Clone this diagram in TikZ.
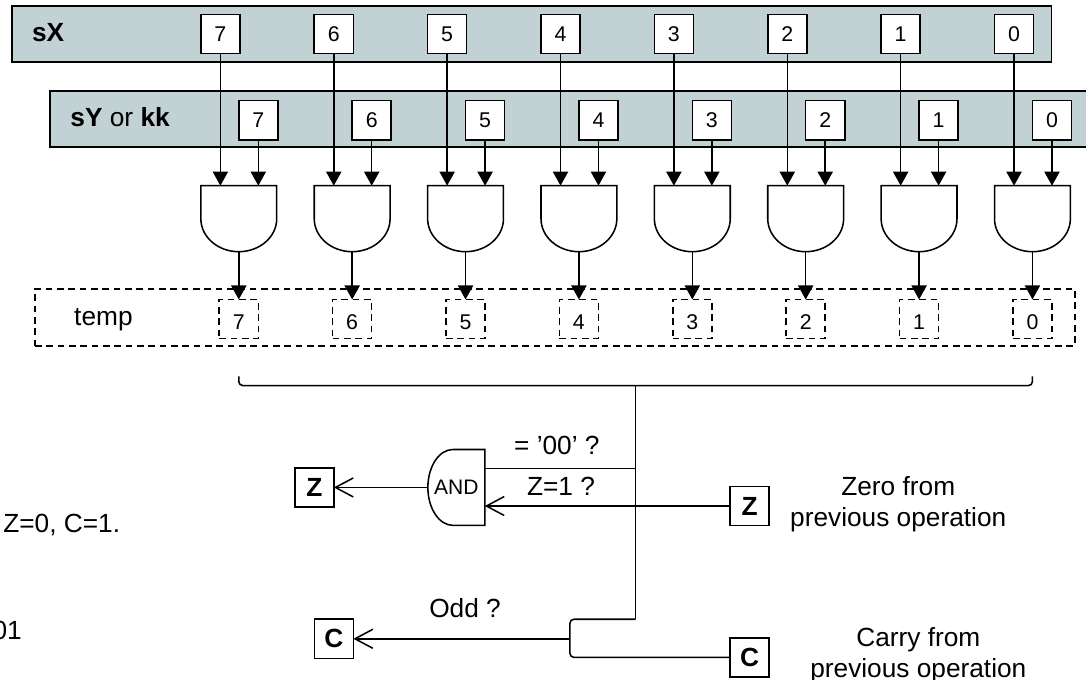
\documentclass[tikz,border=0pt]{standalone}
\usepackage{fontspec}
\setmainfont{Liberation Sans}
\usetikzlibrary{positioning, arrows.meta, calc}
\definecolor{regfill}{RGB}{193,209,212}
\tikzset{
  wire/.style={line width=1.15pt},
  arrow/.style={wire, -{Triangle[length=0.37cm, width=0.4cm]}},
  openarrow/.style={wire, -{Straight Barb[length=0.47cm, width=0.5cm]}}}

\begin{document}
\begin{tikzpicture}[
		node distance=1.959cm,
		font=\fontsize{19.7}{23}\selectfont,
		regbar/.style={
			draw,
			fill=regfill,
			line width=1.2pt,
			minimum width=27.41cm,
			minimum height=1.48cm
		},
		bitbox/.style={
			draw,
			fill=white,
			line width=1.15pt,
			outer sep=0pt,
			inner sep=0pt,
			minimum size=1.03cm,
			font=\fontsize{16}{18}\selectfont
		},
		tempbar/.style={
			draw,
			line width=1.1pt,
			dash pattern=on 5pt off 3.5pt,
			minimum width=27.41cm,
			minimum height=1.5cm
		},
		tempbit/.style={
			bitbox,
			fill=none,
			text height=16pt,
			text depth=0pt,
			dash pattern=on 5pt off 3.5pt
		},
		flagbox/.style={
			bitbox,
			font=\fontsize{19.7}{23}\selectfont\bfseries
		},
		label/.style={
			inner sep=0pt,
			anchor=base
		},
		note/.style={
			inner sep=0pt,
			yshift=0.05cm,
			align=center
		},
		gate/.style={
			outer sep=0pt,
			inner sep=0pt,
			minimum width=2cm,
			minimum height=1.74cm,
			append after command={\pgfextra{
				\draw[wire] (\tikzlastnode.north west) -- (\tikzlastnode.north east) -- ++(0,-0.87cm)
					arc[start angle=0, end angle=-180, x radius=1cm, y radius=0.87cm] -- cycle;
			}}
		},
		sidegate/.style={
			outer sep=0pt,
			inner sep=0pt,
			minimum width=1.5cm,
			minimum height=2cm,
			font=\fontsize{15.75}{18}\selectfont,
			append after command={\pgfextra{
				\draw[wire] (\tikzlastnode.north east) -- ++(-0.84cm,0)
					arc[start angle=90, end angle=270, x radius=0.66cm, y radius=1cm] -- (\tikzlastnode.south east) -- cycle;
			}}
		}
		]
		
		\useasboundingbox (0,0) rectangle (28.63,-17.92);
		
		\node[regbar] (sxbar) at (14.02,-0.90) {};
		\node[regbar] (sybar) at (15.03,-3.14) {};
		\node[tempbar] (tempbar) at (14.63,-8.37) {};
		
		\node[label, anchor=base west] (sxlabel) at (0.84,-1.10) {\textbf{sX}};
		\node[label, anchor=base west] (sylabel) at (1.85,-3.34) {\textbf{sY} or \textbf{kk}};
		\node[label, anchor=base west] (templabel) at (1.95,-8.59) {temp};
		
		\node[bitbox] (x7) at (5.81,-0.90) {7};
		\node[bitbox, right=of x7] (x6) {6};
		\node[bitbox, right=of x6] (x5) {5};
		\node[bitbox, right=of x5] (x4) {4};
		\node[bitbox, right=of x4] (x3) {3};
		\node[bitbox, right=of x3] (x2) {2};
		\node[bitbox, right=of x2] (x1) {1};
		\node[bitbox, right=of x1] (x0) {0};
		
		\node[bitbox, below right=1.24cm and -0.03cm of x7] (y7) {7};
		\node[bitbox, right=of y7] (y6) {6};
		\node[bitbox, right=of y6] (y5) {5};
		\node[bitbox, right=of y5] (y4) {4};
		\node[bitbox, right=of y4] (y3) {3};
		\node[bitbox, right=of y3] (y2) {2};
		\node[bitbox, right=of y2] (y1) {1};
		\node[bitbox, right=of y1] (y0) {0};
		
		\node[gate, below=3.48cm of x7.south west, anchor=north west] (g7) {};
		\node[gate, right=0.989cm of g7] (g6) {};
		\node[gate, right=0.989cm of g6] (g5) {};
		\node[gate, right=0.989cm of g5] (g4) {};
		\node[gate, right=0.989cm of g4] (g3) {};
		\node[gate, right=0.989cm of g3] (g2) {};
		\node[gate, right=0.989cm of g2] (g1) {};
		\node[gate, right=0.989cm of g1] (g0) {};
		
		\node[tempbit, below=1.26cm of g7] (t7) {7};
		\node[tempbit, right=of t7] (t6) {6};
		\node[tempbit, right=of t6] (t5) {5};
		\node[tempbit, right=of t5] (t4) {4};
		\node[tempbit, right=of t4] (t3) {3};
		\node[tempbit, right=of t3] (t2) {2};
		\node[tempbit, right=of t2] (t1) {1};
		\node[tempbit, right=of t1] (t0) {0};
		
		\draw[arrow] (x7) -- (x7 |- g7.north);
		\draw[arrow] (x6) -- (x6 |- g6.north);
		\draw[arrow] (x5) -- (x5 |- g5.north);
		\draw[arrow] (x4) -- (x4 |- g4.north);
		\draw[arrow] (x3) -- (x3 |- g3.north);
		\draw[arrow] (x2) -- (x2 |- g2.north);
		\draw[arrow] (x1) -- (x1 |- g1.north);
		\draw[arrow] (x0) -- (x0 |- g0.north);
		
		\draw[arrow] (y7) -- (y7 |- g7.north);
		\draw[arrow] (y6) -- (y6 |- g6.north);
		\draw[arrow] (y5) -- (y5 |- g5.north);
		\draw[arrow] (y4) -- (y4 |- g4.north);
		\draw[arrow] (y3) -- (y3 |- g3.north);
		\draw[arrow] (y2) -- (y2 |- g2.north);
		\draw[arrow] (y1) -- (y1 |- g1.north);
		\draw[arrow] (y0) -- (y0 |- g0.north);
		
		\draw[arrow] (g7) -- (t7);
		\draw[arrow] (g6) -- (t6);
		\draw[arrow] (g5) -- (t5);
		\draw[arrow] (g4) -- (t4);
		\draw[arrow] (g3) -- (t3);
		\draw[arrow] (g2) -- (t2);
		\draw[arrow] (g1) -- (t1);
		\draw[arrow] (g0) -- (t0);
		
		\coordinate[below=1cm of t7] (bracel);
		\coordinate[below=1cm of t0] (bracer);
		\coordinate (bus) at ($(bracel)!0.5!(bracer)+(0,-0.24)$);
		\draw[wire, rounded corners=3pt] (bracel) |- (bus) -| (bracer);
		
		\node[sidegate] (andg) at (12.03,-12.85) {AND};
		\node[flagbox, left=2.48cm of andg] (zout) {Z};
		\node[flagbox] (zin) at (19.76,-13.34) {Z};
		\node[flagbox] (cout) at (8.80,-16.84) {C};
		\node[flagbox] (cin) at (19.76,-17.33) {C};
		\coordinate[right=5.71cm of cout.east] (cjoin);
		
		\draw[openarrow] (andg) -- (zout);
		\draw[openarrow] (zin) -- (zin -| andg.east);
		\draw[wire] ([yshift=0.5cm]andg.east) -- ([yshift=0.5cm]andg.east -| bus);
		\draw[wire] (bus) -- (bus |- cout.north);
		\draw[wire, rounded corners=3pt] (cin) -| (cjoin) |- (bus |- cout.north);
		\draw[openarrow] (cjoin) -- (cout);
		
		\node[label] (oozero) at (14.68,-11.99) {= ’00’ ?};
		\node[label] (zone) at (14.79,-13.07) {Z=1 ?};
		\node[label] (odd) at (12.26,-16.29) {Odd ?};
		\node[note, right=0.55cm of zin] (zeronote) {Zero from\\ previous operation};
		\node[note, right=1.08cm of cin] (carrynote) {Carry from\\ previous operation};
		\node[label, anchor=base west] (flags) at (0.08,-14.05) {Z=0, C=1.};
		\node[label, anchor=base east] (cutoff) at (0.58,-16.87) {01};
		
	\end{tikzpicture}
\end{document}
